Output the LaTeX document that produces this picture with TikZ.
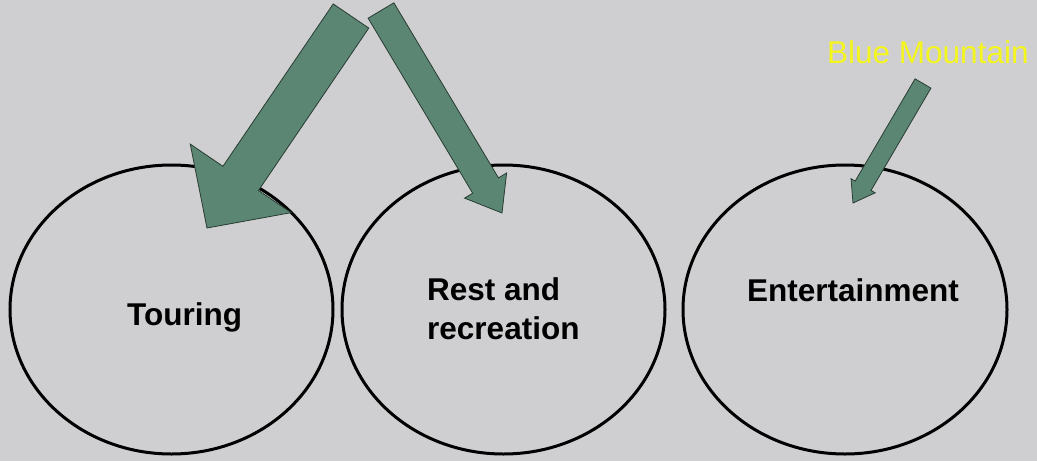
\documentclass[tikz,border=0pt]{standalone}
\usepackage{fontspec}
\setmainfont{Liberation Sans}
\usetikzlibrary{calc,shapes.geometric}

\definecolor{slidebg}{RGB}{207,207,209}
\definecolor{arrowgreen}{RGB}{92,134,116}
\definecolor{arrowedge}{RGB}{40,60,50}
\definecolor{labelyellow}{RGB}{245,245,30}

% block arrow: #1 tail centre, #2 tip, #3 shaft half width, #4 head half width, #5 head length
\newcommand\blkarrow[5]{%
  \path ($(#2)!#5!(#1)$) coordinate (hb);
  \draw[blockarrow] ($(#1)!#3!90:(#2)$) -- ($(hb)!#3!90:(#2)$) -- ($(hb)!#4!90:(#2)$)
    -- (#2) -- ($(hb)!#4!-90:(#2)$) -- ($(hb)!#3!-90:(#2)$) -- ($(#1)!#3!-90:(#2)$) -- cycle;
}

\tikzset{
  oval/.style={draw=black, line width=3pt, ellipse, inner sep=0pt,
    minimum width=323pt, minimum height=289pt},
  blockarrow/.style={fill=arrowgreen, draw=arrowedge, line width=0.8pt, line join=miter},
  bigtext/.style={anchor=base west, inner sep=0pt, font=\fontsize{31.5}{39}\selectfont\bfseries},
  tagtext/.style={anchor=base west, inner sep=0pt, text=labelyellow, font=\fontsize{31.5}{39}\selectfont},
}

\begin{document}
\begin{tikzpicture}[x=1pt, y=-1pt]
  \fill[slidebg] (0,0) rectangle (1037,461);
  \useasboundingbox (0,0) rectangle (1037,461);

  % the three activity ovals
  \node[oval] (touring) at (171.5,309.5) {};
  \node[oval] (rest) at (503.5,309.5) {};
  \node[oval, minimum width=324pt] (ent) at (845,309.5) {};

  \node[bigtext] (touringtxt) at (127,325) {Touring};
  \node[bigtext] (resttxt1) at (427,300) {Rest and};
  \node[bigtext] (resttxt2) at (427,339) {recreation};
  \node[bigtext] (enttxt) at (747,301) {Entertainment};

  \node[tagtext] (bm) at (827,63) {Blue Mountain};

  % arrow ends
  \coordinate (a1tail) at (351,16);
  \coordinate (a1tip) at (207,228);
  \coordinate (a2tail) at (381,10.5);
  \coordinate (a2tip) at (502,213);
  \coordinate (a3tail) at (923,83.5);
  \coordinate (a3tip) at (853,203);

  \blkarrow{a1tail}{a1tip}{21.5pt}{61pt}{60pt}
  \blkarrow{a2tail}{a2tip}{15pt}{24.5pt}{32pt}
  \blkarrow{a3tail}{a3tip}{9.2pt}{14pt}{20pt}
\end{tikzpicture}
\end{document}
